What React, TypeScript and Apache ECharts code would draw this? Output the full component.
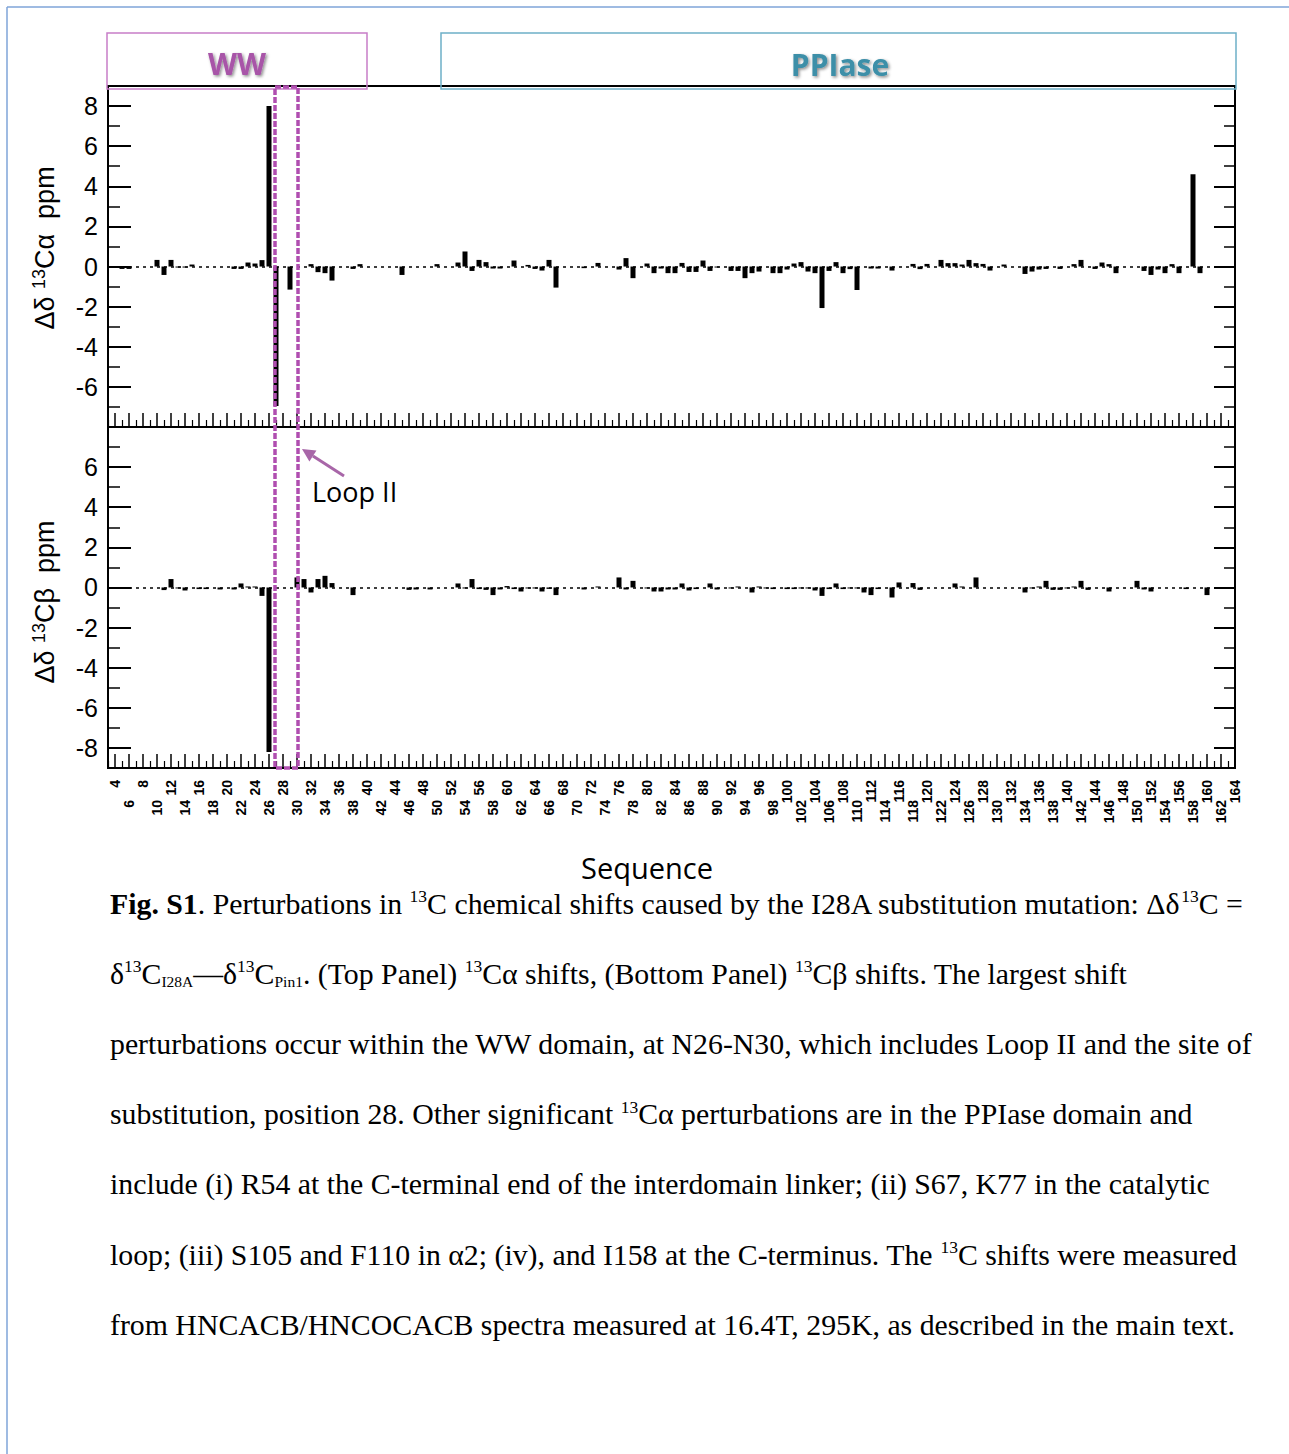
import React, { useEffect, useRef } from "react";
import * as echarts from "echarts";

const SANS = "'Liberation Sans', Arial, sans-serif";
const SERIF = "'Liberation Serif', 'Times New Roman', serif";
const HUM = "'Open Sans', sans-serif";

// Sequence axis range and ticks
const seqMin = 3;
const seqMax = 164;
const xEvenTicks: number[] = [];
const xOddTicks: number[] = [];
const xLabelsRow1: number[] = [];
const xLabelsRow2: number[] = [];
for (let v = 4; v <= 164; v += 2) xEvenTicks.push(v);
for (let v = 3; v <= 163; v += 2) xOddTicks.push(v);
for (let v = 4; v <= 164; v += 4) xLabelsRow1.push(v);
for (let v = 6; v <= 162; v += 4) xLabelsRow2.push(v);

// y ticks and labels
const caMajor = [-8, -6, -4, -2, 0, 2, 4, 6, 8];
const caMinor = [-7, -5, -3, -1, 1, 3, 5, 7, 9];
const caLabels = [-6, -4, -2, 0, 2, 4, 6, 8];
const cbMajor = [-8, -6, -4, -2, 0, 2, 4, 6, 8];
const cbMinor = [-9, -7, -5, -3, -1, 1, 3, 5, 7];
const cbLabels = [-8, -6, -4, -2, 0, 2, 4, 6];

// Δδ 13Cα (residue, ppm)
const caShifts: [number, number][] = [
  [5, -0.12], [6, -0.12], [10, 0.33], [11, -0.42], [12, 0.33], [13, -0.05], [14, -0.05], [15, 0.1],
  [21, -0.12], [22, -0.12], [23, 0.2], [24, 0.15], [25, 0.32], [26, 8.0], [27, -6.95], [29, -1.15],
  [32, 0.12], [33, -0.28], [34, -0.33], [35, -0.7], [38, -0.12], [39, 0.12], [45, -0.42], [50, 0.12],
  [53, 0.2], [54, 0.75], [55, -0.22], [56, 0.33], [57, 0.22], [58, -0.1], [59, -0.1], [61, 0.3],
  [63, 0.08], [64, -0.12], [65, -0.2], [66, 0.33], [67, -1.05], [71, -0.08], [73, 0.18], [76, -0.15],
  [77, 0.42], [78, -0.58], [80, 0.15], [81, -0.33], [82, -0.1], [83, -0.33], [84, -0.33], [85, 0.18],
  [86, -0.27], [87, -0.27], [88, 0.3], [89, -0.22], [90, -0.05], [92, -0.22], [93, -0.22], [94, -0.58],
  [95, -0.33], [96, -0.25], [98, -0.33], [99, -0.33], [100, -0.15], [101, 0.15], [102, 0.22], [103, -0.25],
  [104, -0.33], [105, -2.07], [106, -0.22], [107, 0.22], [108, -0.33], [109, -0.13], [110, -1.17], [112, -0.1],
  [113, -0.1], [115, -0.2], [118, 0.13], [119, -0.13], [120, 0.13], [122, 0.33], [123, 0.17], [124, 0.17],
  [125, 0.1], [126, 0.33], [127, 0.17], [128, 0.13], [129, -0.2], [131, 0.1], [134, -0.37], [135, -0.25],
  [136, -0.15], [137, -0.12], [139, -0.12], [141, 0.12], [142, 0.33], [144, -0.12], [145, 0.2], [146, 0.12],
  [147, -0.33], [151, -0.22], [152, -0.42], [153, -0.15], [154, -0.33], [155, 0.12], [156, -0.33], [158, 4.6],
  [159, -0.33],
];

// Δδ 13Cβ (residue, ppm)
const cbShifts: [number, number][] = [
  [5, -0.05], [6, -0.05], [11, -0.13], [12, 0.42], [13, -0.05], [14, -0.15], [16, -0.08], [17, -0.08],
  [19, -0.1], [21, -0.1], [22, 0.2], [23, 0.05], [24, 0.05], [25, -0.42], [26, -8.2], [30, 0.5],
  [31, 0.42], [32, -0.25], [33, 0.42], [34, 0.58], [35, 0.22], [38, -0.38], [46, -0.12], [47, -0.1],
  [49, -0.1], [53, 0.2], [54, -0.05], [55, 0.42], [56, -0.08], [57, -0.12], [58, -0.38], [59, -0.1],
  [60, 0.07], [61, -0.08], [62, -0.2], [63, -0.05], [64, -0.05], [65, -0.2], [66, -0.07], [67, -0.38],
  [71, -0.1], [73, 0.05], [76, 0.5], [77, -0.1], [78, 0.33], [80, -0.05], [81, -0.2], [82, -0.2],
  [83, -0.1], [84, -0.1], [85, 0.2], [86, -0.15], [87, -0.08], [89, 0.2], [90, -0.1], [92, -0.05],
  [93, 0.05], [95, -0.25], [96, 0.05], [97, -0.05], [98, -0.08], [100, -0.08], [101, -0.08], [102, -0.05],
  [103, -0.05], [104, -0.15], [105, -0.42], [106, -0.08], [107, 0.2], [108, -0.08], [109, -0.05], [110, -0.05],
  [111, -0.25], [112, -0.38], [113, -0.08], [115, -0.5], [116, 0.25], [118, 0.22], [119, -0.12], [124, 0.2],
  [125, 0.05], [127, 0.5], [134, -0.25], [135, -0.05], [136, 0.05], [137, 0.33], [138, -0.12], [139, -0.12],
  [140, -0.05], [141, 0.05], [142, 0.33], [143, -0.12], [146, -0.2], [150, 0.33], [151, -0.1], [152, -0.2],
  [157, -0.08], [160, -0.38],
];

const captionLines: string[] = [
  "{b|Fig. S1}. Perturbations in {sup|13}C chemical shifts caused by the I28A substitution mutation: Δδ{sup|13}C =",
  "δ{sup|13}C{sub|I28A}—δ{sup|13}C{sub|Pin1}. (Top Panel) {sup|13}Cα shifts, (Bottom Panel) {sup|13}Cβ shifts. The largest shift",
  "perturbations occur within the WW domain, at N26-N30, which includes Loop II and the site of",
  "substitution, position 28. Other significant {sup|13}Cα perturbations are in the PPIase domain and",
  "include (i) R54 at the C-terminal end of the interdomain linker; (ii) S67, K77 in the catalytic",
  "loop; (iii) S105 and F110 in α2; (iv), and I158 at the C-terminus. The {sup|13}C shifts were measured",
  "from HNCACB/HNCOCACB spectra measured at 16.4T, 295K, as described in the main text.",
];

const GRID_LEFT = 108;
const GRID_W = 1127;
const grids = [
  { left: GRID_LEFT, top: 86, width: GRID_W, height: 341 },
  { left: GRID_LEFT, top: 427, width: GRID_W, height: 341 },
];

function xAxesFor(gridIndex: number, withLabels: boolean) {
  const common = {
    type: "value",
    gridIndex,
    min: seqMin,
    max: seqMax,
    position: "bottom",
    splitLine: { show: false },
    axisLine: { show: true, onZero: false, lineStyle: { color: "#000", width: 2 } },
  };
  const lbl = {
    show: withLabels,
    rotate: 90,
    fontFamily: SANS,
    fontWeight: "bold",
    fontSize: 14,
    color: "#000",
  };
  return [
    {
      ...common,
      axisTick: { show: true, inside: true, length: 14, customValues: xEvenTicks, lineStyle: { color: "#000", width: 1.5 } },
      axisLabel: { ...lbl, customValues: xLabelsRow1, margin: 12 },
    },
    {
      ...common,
      axisTick: { show: true, inside: true, length: 7, customValues: xOddTicks, lineStyle: { color: "#000", width: 1.2 } },
      axisLabel: { ...lbl, customValues: xLabelsRow2, margin: 32 },
    },
  ];
}

function yAxesFor(gridIndex: number, min: number, max: number, major: number[], minor: number[], labels: number[]) {
  const common = {
    type: "value",
    gridIndex,
    min,
    max,
    splitLine: { show: false },
    axisLine: { show: true, onZero: false, lineStyle: { color: "#000", width: 2 } },
  };
  return [
    {
      ...common,
      position: "left",
      axisTick: { show: true, inside: true, length: 23, customValues: major, lineStyle: { color: "#000", width: 2 } },
      axisLabel: { show: true, customValues: labels, margin: 10, fontFamily: SANS, fontSize: 25, color: "#000" },
    },
    {
      ...common,
      position: "left",
      axisTick: { show: true, inside: true, length: 12, customValues: minor, lineStyle: { color: "#000", width: 1.5 } },
      axisLabel: { show: false },
    },
    {
      ...common,
      position: "right",
      axisTick: { show: true, inside: true, length: 21, customValues: major, lineStyle: { color: "#000", width: 2 } },
      axisLabel: { show: false },
    },
    {
      ...common,
      position: "right",
      axisTick: { show: true, inside: true, length: 11, customValues: minor, lineStyle: { color: "#000", width: 1.5 } },
      axisLabel: { show: false },
    },
  ];
}

function zeroLine() {
  return {
    silent: true,
    symbol: "none",
    label: { show: false },
    lineStyle: { color: "#000", type: [3, 4], width: 1.5 },
    data: [{ yAxis: 0 }],
  };
}

export default function App() {
  const ref = useRef<HTMLDivElement>(null);
  useEffect(() => {
    if (!ref.current) return;
    const chart = echarts.init(ref.current, undefined, { renderer: "svg" });

    const CAP = 29.8;
    const supRich = {
      b: { fontFamily: SERIF, fontSize: CAP, fontWeight: "bold", lineHeight: 32, color: "#000" },
      sup: { fontFamily: SERIF, fontSize: 17.5, verticalAlign: "top", lineHeight: 18, color: "#000" },
      sub: { fontFamily: SERIF, fontSize: 15.5, verticalAlign: "bottom", lineHeight: 17, color: "#000" },
    };

    const captionY0 = 903;
    const captionStep = 70.2;

    const arrowTip = [302, 449];
    const arrowTail = [344, 476];
    const dx = arrowTail[0] - arrowTip[0];
    const dy = arrowTail[1] - arrowTip[1];
    const len = Math.sqrt(dx * dx + dy * dy);
    const ux = dx / len;
    const uy = dy / len;
    const hl = 13;
    const hw = 6.5;
    const bx = arrowTip[0] + ux * hl;
    const by = arrowTip[1] + uy * hl;

    const titleStyle = (text: string, fill: string) => ({
      text,
      fontFamily: HUM,
      fontWeight: "bold",
      fontSize: 30,
      fill,
      align: "center",
      verticalAlign: "middle",
      textShadowColor: "rgba(0,0,0,0.45)",
      textShadowBlur: 3,
      textShadowOffsetX: 1.5,
      textShadowOffsetY: 1.5,
    });

    const yNameStyle = (text: string) => ({
      text,
      fontFamily: SANS,
      fontSize: 27,
      lineHeight: 31,
      fill: "#000",
      align: "center",
      verticalAlign: "middle",
      rich: { sup: { fontFamily: SANS, fontSize: 18, verticalAlign: "top", lineHeight: 18 } },
    });

    const graphics: any[] = [
      // page frame
      { type: "line", shape: { x1: 7, y1: 7, x2: 1289, y2: 7 }, style: { stroke: "#7FA5D8", lineWidth: 1.5 }, z: 50 },
      { type: "line", shape: { x1: 7, y1: 7, x2: 7, y2: 1454 }, style: { stroke: "#7FA5D8", lineWidth: 1.5 }, z: 50 },
      // domain boxes
      { type: "rect", shape: { x: 107, y: 33, width: 260, height: 56 }, style: { fill: "none", stroke: "#C87DC8", lineWidth: 1.5 }, z: 50 },
      { type: "text", x: 237, y: 63, style: titleStyle("WW", "#A855A8"), z: 50 },
      { type: "rect", shape: { x: 441, y: 33, width: 795, height: 56 }, style: { fill: "none", stroke: "#6DB0C8", lineWidth: 1.5 }, z: 50 },
      { type: "text", x: 840, y: 64, style: titleStyle("PPIase", "#3D8FA8"), z: 50 },
      // Loop II highlight
      {
        type: "rect",
        shape: { x: 275, y: 87, width: 23, height: 681 },
        style: { fill: "none", stroke: "#B04EB0", lineWidth: 3.5, lineDash: [6, 2] },
        z: 60,
      },
      {
        type: "line",
        shape: { x1: arrowTail[0], y1: arrowTail[1], x2: bx, y2: by },
        style: { stroke: "#A866A8", lineWidth: 3 },
        z: 60,
      },
      {
        type: "polygon",
        shape: {
          points: [
            [arrowTip[0], arrowTip[1]],
            [bx + -uy * hw, by + ux * hw],
            [bx + uy * hw, by - ux * hw],
          ],
        },
        style: { fill: "#A866A8" },
        z: 60,
      },
      {
        type: "text",
        x: 312,
        y: 491,
        style: { text: "Loop II", fontFamily: HUM, fontSize: 27, fill: "#000", align: "left", verticalAlign: "middle" },
        z: 60,
      },
      // y-axis names
      { type: "text", x: 45, y: 248, rotation: Math.PI / 2, style: yNameStyle("Δδ {sup|13}Cα  ppm"), z: 50 },
      { type: "text", x: 45, y: 602, rotation: Math.PI / 2, style: yNameStyle("Δδ {sup|13}Cβ  ppm"), z: 50 },
      // x-axis name
      {
        type: "text",
        x: 647,
        y: 867,
        style: { text: "Sequence", fontFamily: HUM, fontSize: 29, fill: "#000", align: "center", verticalAlign: "middle" },
        z: 50,
      },
    ];

    captionLines.forEach((line, i) => {
      graphics.push({
        type: "text",
        x: 110,
        y: captionY0 + i * captionStep,
        style: {
          text: line,
          fontFamily: SERIF,
          fontSize: CAP,
          lineHeight: 32,
          fill: "#000",
          align: "left",
          verticalAlign: "middle",
          rich: supRich,
        },
        z: 50,
      });
    });

    const option: any = {
      animation: false,
      backgroundColor: "#fff",
      grid: grids.map((g) => ({ ...g, show: true, borderColor: "#000", borderWidth: 2, backgroundColor: "transparent" })),
      xAxis: [...xAxesFor(0, false), ...xAxesFor(1, true)],
      yAxis: [
        ...yAxesFor(0, -8, 9, caMajor, caMinor, caLabels),
        ...yAxesFor(1, -9, 8, cbMajor, cbMinor, cbLabels),
      ],
      series: [
        {
          type: "bar",
          name: "Cα",
          xAxisIndex: 0,
          yAxisIndex: 0,
          barWidth: 5,
          data: caShifts,
          itemStyle: { color: "#000" },
          markLine: zeroLine(),
        },
        {
          type: "bar",
          name: "Cβ",
          xAxisIndex: 2,
          yAxisIndex: 4,
          barWidth: 5,
          data: cbShifts,
          itemStyle: { color: "#000" },
          markLine: zeroLine(),
        },
      ],
      graphic: { elements: graphics },
    };

    chart.setOption(option);
    return () => chart.dispose();
  }, []);

  return <div ref={ref} style={{ position: "absolute", left: 0, top: 0, width: 1289, height: 1454, background: "#fff" }} />;
}
